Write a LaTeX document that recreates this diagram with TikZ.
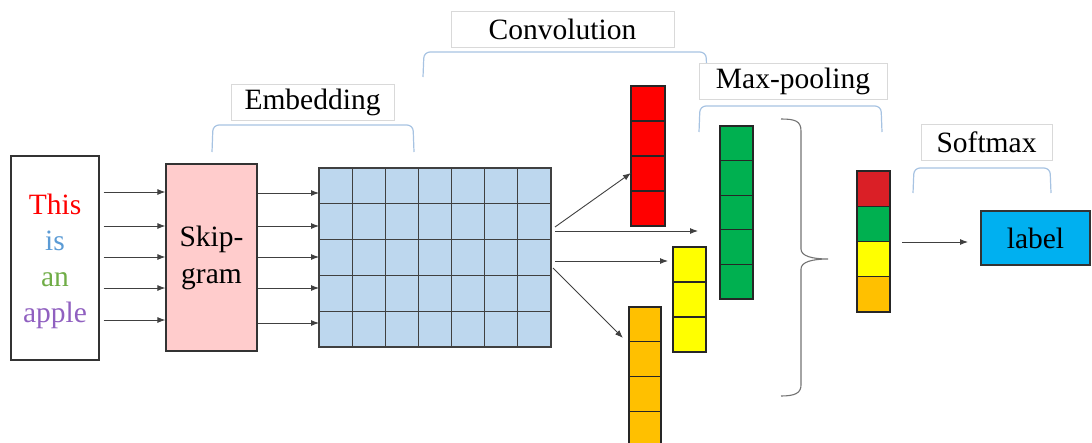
\documentclass[tikz,border=0pt]{standalone}
\usepackage{fontspec}
\setmainfont{Liberation Serif}
\usetikzlibrary{arrows.meta,calc}
\definecolor{cRed}{HTML}{FF0000}
\definecolor{cBlue}{HTML}{5B9BD5}
\definecolor{cGreenT}{HTML}{70AD47}
\definecolor{cPurple}{HTML}{9060C0}
\definecolor{cPink}{HTML}{FFCCCC}
\definecolor{cGrid}{HTML}{BDD7EE}
\definecolor{cGreen}{HTML}{00B050}
\definecolor{cYellow}{HTML}{FFFF00}
\definecolor{cOrange}{HTML}{FFC000}
\definecolor{cDRed}{HTML}{DA1F26}
\definecolor{cCyan}{HTML}{00B0F0}
\definecolor{cBracket}{HTML}{A7C3E2}
\definecolor{cTBox}{HTML}{D9D9D9}
\newcommand\mycol[7]{% name, x, y, w, cell h, n, colour
  \node[cellbox, fill=#7, minimum width=#4, minimum height=#5*#6, anchor=north west] (#1) at (#2,#3) {};
  \foreach \k in {1,...,#6}{
    \draw[cellline] ($(#1.north west)!\k/#6!(#1.south west)$) -- ($(#1.north east)!\k/#6!(#1.south east)$);
  }
}
\begin{document}
\begin{tikzpicture}[x=1pt,y=-1pt,
  every node/.style={font=\fontsize{29.5}{36}\selectfont},
  cellbox/.style={draw=black!85, line width=1.2pt, inner sep=0pt, outer sep=0pt, rectangle},
  cellline/.style={draw=black!85, line width=1.2pt},
  arr/.style={-{Latex[length=8pt,width=6pt]}, draw=black!75, line width=0.9pt},
  tbox/.style={draw=cTBox, fill=white, line width=0.8pt, inner sep=0pt, minimum height=36},
  bracket/.style={draw=cBracket, line width=1.2pt, rounded corners=6pt},
  brace/.style={draw=black!55, line width=1.1pt}]
\useasboundingbox (0,0) rectangle (1092,442);
\clip (0,0) rectangle (1092,442);

% input box
\node[draw=black!80, line width=1.2pt, minimum width=88, minimum height=204, inner sep=0pt] (input) at (55,258) {};
\node[align=center, inner sep=0pt] (words) at (55,261) {\textcolor{cRed}{This}\\\textcolor{cBlue}{is}\\\textcolor{cGreenT}{an}\\\textcolor{cPurple}{apple}};

% skip-gram
\node[draw=black!80, line width=1.2pt, fill=cPink, minimum width=91, minimum height=187, inner sep=0pt, align=center, font=\fontsize{29.5}{37}\selectfont] (skip) at (211.5,257.5) {Skip-\\gram};

% embedding grid
\node[cellbox, draw=black!75, fill=cGrid, minimum width=232, minimum height=179, anchor=north west] (grid) at (319,168) {};
\foreach \k in {1,...,6}{
  \draw[cellline, draw=black!75] ($(grid.north west)!\k/7!(grid.north east)$) -- ($(grid.south west)!\k/7!(grid.south east)$);
}
\foreach \k in {1,...,4}{
  \draw[cellline, draw=black!75] ($(grid.north west)!\k/5!(grid.south west)$) -- ($(grid.north east)!\k/5!(grid.south east)$);
}

% arrows input -> skip
\foreach \y in {192,226,257,288,320}{
  \draw[arr] ([xshift=4pt]input.east |- 0,\y) -- (skip.west |- 0,\y);
}
% arrows skip -> grid
\foreach \y in {193,226,257,288,323}{
  \draw[arr] (skip.east |- 0,\y) -- (grid.west |- 0,\y);
}

% convolution columns
\mycol{redcol}{631}{86}{34}{35}{4}{cRed}
\mycol{greencol}{720}{126}{33}{34.6}{5}{cGreen}
\mycol{yellowcol}{673}{247}{33}{35}{3}{cYellow}
\mycol{orangecol}{629}{307}{32}{34.8}{4}{cOrange}

% arrows grid -> columns
\coordinate (g1) at (555,227);
\coordinate (g2) at (555,231);
\coordinate (g3) at (555,261);
\coordinate (g4) at (553,268);
\coordinate (e2) at (698,231);
\coordinate (e3) at (668,261);
\coordinate (e4) at (623,338);
\draw[arr] (g1) -- (redcol.west |- 0,173);
\draw[arr] (g2) -- (e2);
\draw[arr] (g3) -- (e3);
\draw[arr] (g4) -- (e4);

% output column
\node[cellbox, fill=cDRed, minimum width=33, minimum height=35.25, anchor=north west] (o1) at (857,171) {};
\node[cellbox, fill=cGreen, minimum width=33, minimum height=35.25, anchor=north west] (o2) at (857,206.25) {};
\node[cellbox, fill=cYellow, minimum width=33, minimum height=35.25, anchor=north west] (o3) at (857,241.5) {};
\node[cellbox, fill=cOrange, minimum width=33, minimum height=35.25, anchor=north west] (o4) at (857,276.75) {};

% big brace
\draw[brace] (781,119) .. controls (795,119) and (801,121) .. (801,131) -- (801,249)
  .. controls (801,256) and (812,259) .. (828,259)
  .. controls (812,259) and (801,262) .. (801,269) -- (801,385)
  .. controls (801,393) and (795,396) .. (781,396);

% label
\coordinate (s1) at (902,242);
\node[draw=black!80, line width=1.2pt, fill=cCyan, minimum width=109, minimum height=54, inner sep=0pt] (label) at (1035.5,238) {label};
\draw[arr] (s1) -- (968,242);

% brackets
\draw[bracket] (212,152) -- (213,125) -- (413,125) -- (414,152);
\draw[bracket] (423,77) -- (424,52) -- (706,52) -- (707,77);
\draw[bracket] (699,132) -- (700,106) -- (881,106) -- (882,132);
\draw[bracket] (913,193) -- (914,168) -- (1050,168) -- (1051,193);

% title boxes
\node[tbox, minimum width=163] (emb) at (312.5,102.5) {Embedding};
\node[tbox, minimum width=223] (conv) at (562.5,29.5) {Convolution};
\node[tbox, minimum width=188] (pool) at (793,81.5) {Max-pooling};
\node[tbox, minimum width=131] (soft) at (986.5,142.5) {Softmax};
\end{tikzpicture}
\end{document}
